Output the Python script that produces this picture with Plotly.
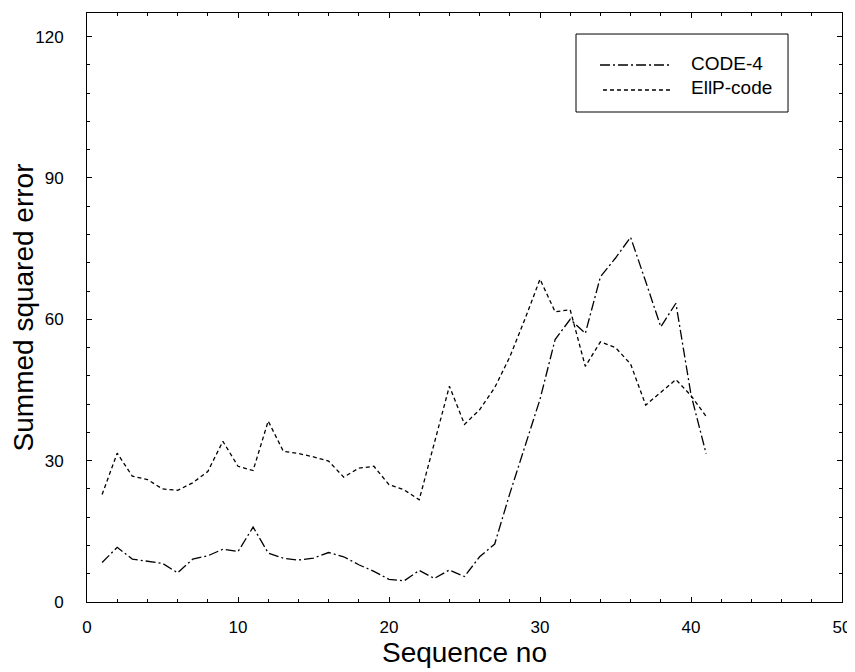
import plotly.graph_objects as go

seq = list(range(1, 42))
code4 = [8.4, 11.6, 9.1, 8.6, 8.2, 6.2, 9.1, 9.8, 11.2, 10.7,
         15.9, 10.4, 9.3, 8.9, 9.3, 10.5, 9.6, 7.9, 6.5, 4.8,
         4.5, 6.7, 5.0, 6.8, 5.4, 9.6, 12.3, 23.0, 33.0, 43.0,
         55.7, 60.0, 57.0, 69.0, 73.0, 77.4, 68.0, 58.4, 63.4, 44.0,
         31.5]
ellp = [22.8, 31.6, 26.7, 26.0, 24.0, 23.7, 25.3, 27.7, 34.1, 28.8,
        27.9, 38.4, 32.0, 31.5, 30.8, 29.9, 26.5, 28.4, 28.8, 24.9,
        23.8, 21.7, 33.7, 45.8, 37.7, 40.8, 45.5, 52.0, 60.0, 68.5,
        61.6, 62.0, 50.0, 55.2, 54.0, 50.5, 41.8, 44.5, 47.2, 43.8,
        39.4]
series_names = ["CODE-4", "EllP-code"]
x_ticks = [0, 10, 20, 30, 40, 50]
y_ticks = [0, 30, 60, 90, 120]

FONT = "Liberation Sans, Arial, sans-serif"
DASH_C4 = "10px,3px,2px,3px"
DASH_EL = "4px,3px"

fig = go.Figure()
fig.add_trace(go.Scatter(x=seq, y=code4, mode="lines", name=series_names[0],
                         line=dict(color="black", width=1.3, dash=DASH_C4),
                         showlegend=False))
fig.add_trace(go.Scatter(x=seq, y=ellp, mode="lines", name=series_names[1],
                         line=dict(color="black", width=1.3, dash=DASH_EL),
                         showlegend=False))

# manual legend (box, samples, labels) in paper coordinates
fig.add_shape(type="rect", xref="paper", yref="paper", x0=0.6477, x1=0.9285,
              y0=0.8319, y1=0.9643, line=dict(color="black", width=1),
              fillcolor="white", layer="above")
fig.add_shape(type="line", xref="paper", yref="paper", x0=0.6795, x1=0.7722,
              y0=0.9117, y1=0.9117, line=dict(color="black", width=1.3, dash=DASH_C4))
fig.add_shape(type="line", xref="paper", yref="paper", x0=0.6834, x1=0.7722,
              y0=0.8693, y1=0.8693, line=dict(color="black", width=1.3, dash=DASH_EL))
for name, yy in zip(series_names, [0.9151, 0.8727]):
    fig.add_annotation(text=name, xref="paper", yref="paper", x=0.797, y=yy,
                       xanchor="left", yanchor="middle", showarrow=False,
                       font=dict(family=FONT, size=19, color="black"))

axis_common = dict(showline=True, linecolor="black", linewidth=1, mirror="allticks",
                   ticks="inside", ticklen=5, tickcolor="black", tickwidth=1,
                   showgrid=False, zeroline=False,
                   tickfont=dict(family=FONT, size=17, color="black"))

fig.update_xaxes(range=[0, 50], tickvals=x_ticks, ticktext=[str(v) for v in x_ticks],
                 minor=dict(dtick=2, ticks="inside", ticklen=3, tickcolor="black"),
                 title=dict(text="Sequence no", font=dict(family=FONT, size=28, color="black"),
                            standoff=5),
                 ticklabelstandoff=10,
                 **axis_common)
fig.update_yaxes(range=[0, 125], tickvals=y_ticks, ticktext=[str(v) for v in y_ticks],
                 minor=dict(dtick=6, ticks="inside", ticklen=3, tickcolor="black"),
                 title=dict(text="Summed squared error", font=dict(family=FONT, size=28, color="black"),
                            standoff=0),
                 ticklabelstandoff=19,
                 **axis_common)

# page body has an 8px margin: size the figure to fit the window exactly
fig.update_layout(width=847, height=664, margin=dict(l=79, r=13, t=5, b=70, autoexpand=False),
                  plot_bgcolor="white", paper_bgcolor="white",
                  font=dict(family=FONT, color="black"))

fig.write_html("out.html")
